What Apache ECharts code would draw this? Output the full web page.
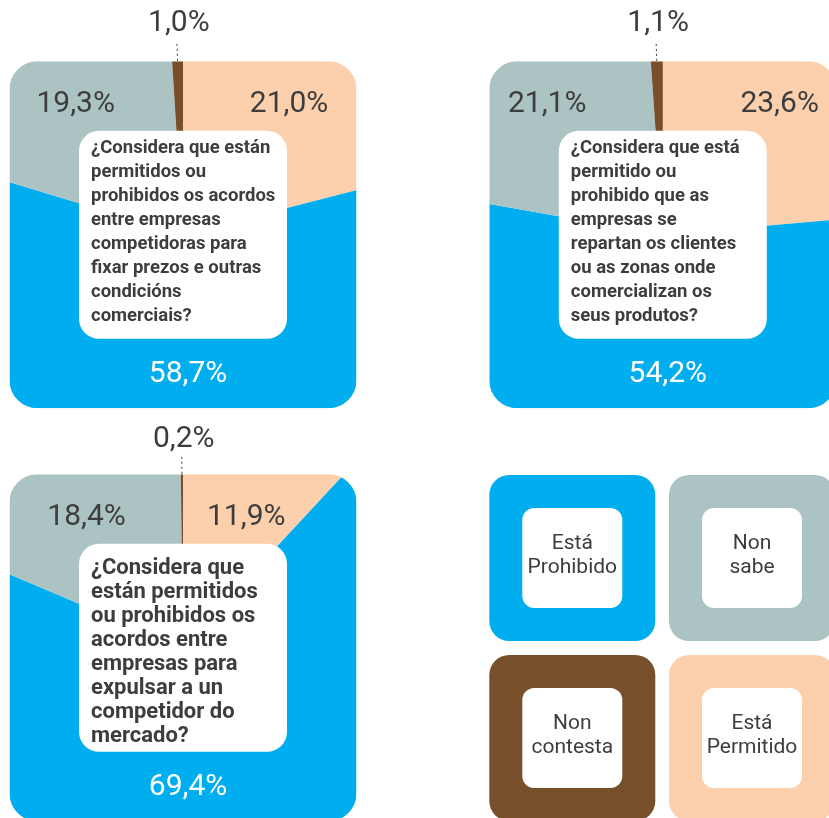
<!DOCTYPE html>
<html>
<head>
<meta charset="utf-8">
<script src="https://cdn.jsdelivr.net/npm/echarts@6/dist/echarts.min.js"></script>
<style>
  html, body { margin: 0; padding: 0; background: #fff; }
  #chart { width: 829px; height: 818px; }
</style>
</head>
<body>
<div id="chart"></div>
<script>
// categorías na orde do xiro (dende arriba, sentido horario)
const categories = ['Está Permitido', 'Está Prohibido', 'Non sabe', 'Non contesta']
const colors = ['#fdd0ad', '#00aeef', '#abc4c3', '#774f2b']

// porcentaxes de cada pregunta
const valuesQ1 = [21.0, 58.7, 19.3, 1.0]
const valuesQ2 = [23.6, 54.2, 21.1, 1.1]
const valuesQ3 = [11.9, 69.4, 18.4, 0.2]

const questionQ1 = ['¿Considera que están', 'permitidos ou', 'prohibidos os acordos', 'entre empresas',
  'competidoras para', 'fixar prezos e outras', 'condicións', 'comerciais?']
const questionQ2 = ['¿Considera que está', 'permitido ou', 'prohibido que as', 'empresas se',
  'repartan os clientes', 'ou as zonas onde', 'comercializan os', 'seus produtos?']
const questionQ3 = ['¿Considera que', 'están permitidos', 'ou prohibidos os', 'acordos entre',
  'empresas para', 'expulsar a un', 'competidor do', 'mercado?']

// orde da lenda (2 x 2)
const legendOrder = [1, 2, 3, 0]

const TEXT = '#3d3d3d'
const SIZE = 347
const CORNER = 28

const panels = [
  { x: 9.5, y: 61.3, values: valuesQ1, question: questionQ1, fontSize: 18.5, lineLen: 20, shift: -2 },
  { x: 489.3, y: 61.3, values: valuesQ2, question: questionQ2, fontSize: 18.5, lineLen: 20, shift: -2 },
  { x: 9.5, y: 474.3, values: valuesQ3, question: questionQ3, fontSize: 22, lineLen: 17, shift: 5 }
]

const fmt = p => p.value.toFixed(1).replace('.', ',') + '%'

const series = []
const graphics = []

panels.forEach(p => {
  const cx = p.x + SIZE / 2
  const cy = p.y + SIZE / 2

  // sectores
  series.push({
    type: 'pie',
    z: 2,
    center: [cx, cy],
    radius: [0, 236],
    startAngle: 90,
    clockwise: true,
    silent: true,
    animation: false,
    label: { show: false },
    labelLine: { show: false },
    itemStyle: { borderWidth: 0 },
    emphasis: { disabled: true },
    data: p.values.map((v, i) => ({ name: categories[i], value: v, itemStyle: { color: colors[i] } }))
  })

  // etiquetas (serie transparente por riba da máscara)
  series.push({
    type: 'pie',
    z: 5,
    center: [cx, cy],
    radius: [166, 174],
    startAngle: 90,
    clockwise: true,
    silent: true,
    animation: false,
    avoidLabelOverlap: false,
    itemStyle: { color: 'rgba(0,0,0,0)', borderWidth: 0 },
    emphasis: { disabled: true },
    label: {
      show: true,
      position: 'inside',
      rotate: 0,
      fontFamily: 'Roboto',
      fontSize: 30,
      fontWeight: 'normal',
      color: TEXT,
      formatter: fmt
    },
    labelLine: { show: false },
    labelLayout: function (params) {
      if (params.dataIndex === 0 || params.dataIndex === 2) {
        return { y: cy - 130 }
      }
      if (params.dataIndex === 1) {
        return { x: cx + 5, y: cy + 140, align: 'center', verticalAlign: 'middle' }
      }
      const pts = params.labelLinePoints
      if (!pts) return {}
      return {
        x: pts[1][0] + 2,
        y: pts[1][1] - 2,
        align: 'center',
        verticalAlign: 'bottom',
        labelLinePoints: [pts[0], pts[1]]
      }
    },
    data: p.values.map((v, i) => {
      const item = { name: categories[i], value: v }
      if (i === 1) item.label = { position: 'center', color: '#fff' }
      if (i === 3) {
        item.label = { position: 'outside' }
        item.labelLine = {
          show: true,
          length: p.lineLen,
          length2: 0,
          lineStyle: { color: TEXT, width: 1, type: [2, 3] }
        }
      }
      return item
    })
  })

  // bordo branco redondeado (recorta o círculo)
  graphics.push({
    type: 'rect', z: 3, silent: true,
    shape: { x: p.x - 10, y: p.y - 10, width: SIZE + 20, height: SIZE + 20, r: CORNER + 10 },
    style: { fill: 'none', stroke: '#fff', lineWidth: 20 }
  })

  // caixa da pregunta
  graphics.push({
    type: 'rect', z: 4, silent: true,
    shape: { x: cx - 104, y: cy - 104, width: 208, height: 208, r: 20 },
    style: { fill: '#fff' }
  })
  graphics.push({
    type: 'text', z: 6, silent: true,
    x: cx - 92,
    y: cy + p.shift,
    style: {
      text: p.question.join('\n'),
      fontFamily: 'Roboto',
      fontWeight: 'bold',
      fontSize: p.fontSize,
      lineHeight: 24,
      fill: TEXT,
      align: 'left',
      verticalAlign: 'middle'
    }
  })
})

// máscaras brancas entre paneis
const masks = [
  [0, 0, 829, 61.3],
  [0, 0, 9.5, 818],
  [356.5, 0, 132.8, 818],
  [0, 408.3, 356.5, 66],
  [489.3, 408.3, 340, 410]
]
masks.forEach(m => {
  graphics.push({
    type: 'rect', z: 3, silent: true,
    shape: { x: m[0], y: m[1], width: m[2], height: m[3] },
    style: { fill: '#fff' }
  })
})

// lenda
legendOrder.forEach((ci, k) => {
  const x = 489.3 + (k % 2) * 179.7
  const y = 475 + Math.floor(k / 2) * 180
  graphics.push({
    type: 'rect', z: 4, silent: true,
    shape: { x: x, y: y, width: 166, height: 166, r: 20 },
    style: { fill: colors[ci] }
  })
  graphics.push({
    type: 'rect', z: 4, silent: true,
    shape: { x: x + 33, y: y + 33, width: 100, height: 100, r: 12 },
    style: { fill: '#fff' }
  })
  graphics.push({
    type: 'text', z: 6, silent: true,
    x: x + 83,
    y: y + 81,
    style: {
      text: categories[ci].replace(' ', '\n'),
      fontFamily: 'Roboto',
      fontSize: 21,
      lineHeight: 24,
      fill: TEXT,
      align: 'center',
      verticalAlign: 'middle'
    }
  })
})

const myChart = echarts.init(document.getElementById('chart'))
myChart.setOption({
  animation: false,
  backgroundColor: '#fff',
  series: series,
  graphic: { elements: graphics }
})
</script>
</body>
</html>
